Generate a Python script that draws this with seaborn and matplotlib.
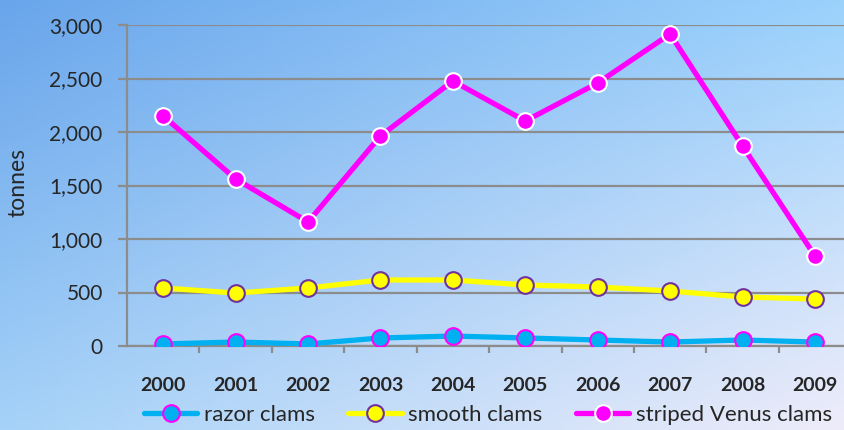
import numpy as np
import pandas as pd
import matplotlib
matplotlib.use("Agg")
import matplotlib.pyplot as plt
import seaborn as sns
from matplotlib.ticker import FuncFormatter, MultipleLocator, FixedLocator

years = ["2000", "2001", "2002", "2003", "2004", "2005", "2006", "2007", "2008", "2009"]
razor = [19, 37, 19, 75, 93, 75, 56, 37, 56, 37]
smooth = [542, 495, 542, 617, 617, 570, 551, 514, 458, 439]
venus = [2150, 1561, 1159, 1963, 2477, 2103, 2458, 2916, 1869, 841]
series_names = ["razor clams", "smooth clams", "striped Venus clams"]

sns.set_theme(style="white")
plt.rcParams["font.family"] = ["Lato", "DejaVu Sans"]

W, H = 845, 430
fig = plt.figure(figsize=(W / 100, H / 100), dpi=100)

# background gradient
bg = fig.add_axes([0, 0, 1, 1], zorder=-10)
tl = np.array([105, 165, 235]) / 255
tr = np.array([155, 210, 252]) / 255
bl = np.array([165, 210, 248]) / 255
br = np.array([238, 236, 250]) / 255
u = np.linspace(0, 1, 200)[None, :, None]
v = np.linspace(0, 1, 100)[:, None, None]
img = (1 - v) * ((1 - u) * tl + u * tr) + v * ((1 - u) * bl + u * br)
bg.imshow(img, aspect="auto", extent=[0, 1, 0, 1], origin="upper")
bg.axis("off")

ax = fig.add_axes([127 / W, 1 - 346 / H, (W - 127) / W, 321 / H])
ax.patch.set_alpha(0)

x = np.arange(len(years))
df = pd.DataFrame({"x": np.tile(x, 3),
                   "value": razor + smooth + venus,
                   "series": np.repeat(series_names, len(years))})

styles = {
    "razor clams": dict(color="#00b0f0", mfc="#00b0f0", mec="#ff00ff"),
    "smooth clams": dict(color="#ffff00", mfc="#ffff00", mec="#7030a0"),
    "striped Venus clams": dict(color="#ff00ff", mfc="#ff00ff", mec="#ffffff"),
}
for name in series_names:
    st = styles[name]
    sns.lineplot(data=df[df.series == name], x="x", y="value", ax=ax,
                 color=st["color"], linewidth=3.8, marker="o", markersize=12,
                 markerfacecolor=st["mfc"], markeredgecolor=st["mec"],
                 markeredgewidth=1.5, label=name, zorder=3)

ax.set_ylim(0, 3000)
ax.set_xlim(-0.5, (W - 163) / 72.44)
ax.yaxis.set_major_locator(MultipleLocator(500))
ax.yaxis.set_major_formatter(FuncFormatter(lambda v, p: f"{int(v):,}"))
ax.grid(axis="y", color="#8c8c8c", linewidth=1.6)
ax.set_axisbelow(True)
for s in ["top", "right"]:
    ax.spines[s].set_visible(False)
ax.spines["left"].set_color("#8c8c8c")
ax.spines["left"].set_linewidth(1.6)
ax.spines["bottom"].set_color("#8c8c8c")
ax.spines["bottom"].set_linewidth(1.6)

ax.xaxis.set_major_locator(FixedLocator(x))
ax.set_xticklabels(years, fontsize=14, fontweight="bold")
ax.xaxis.set_minor_locator(FixedLocator(np.arange(len(years)) + 0.5))
ax.tick_params(axis="x", which="major", length=0, pad=22)
ax.tick_params(axis="x", which="minor", length=5, width=1.6, color="#8c8c8c", direction="out", bottom=True)
ax.tick_params(axis="y", length=6.5, width=1.6, color="#8c8c8c", direction="out", left=True,
               labelsize=15, pad=11)
ax.set_xlabel("")
ax.set_ylabel("tonnes", fontsize=16.5)
ax.yaxis.label.set_va("center")
ax.yaxis.set_label_coords((18 - 127) / (W - 127), (346 - 182) / 321)

leg = ax.legend(loc="center", bbox_to_anchor=(488 / W, 1 - 415 / H), bbox_transform=fig.transFigure,
                ncol=3, frameon=False, fontsize=16, handlelength=2.4, columnspacing=1.5,
                handletextpad=0.3, borderaxespad=0, borderpad=0)

fig.savefig("out.png", dpi=100)
